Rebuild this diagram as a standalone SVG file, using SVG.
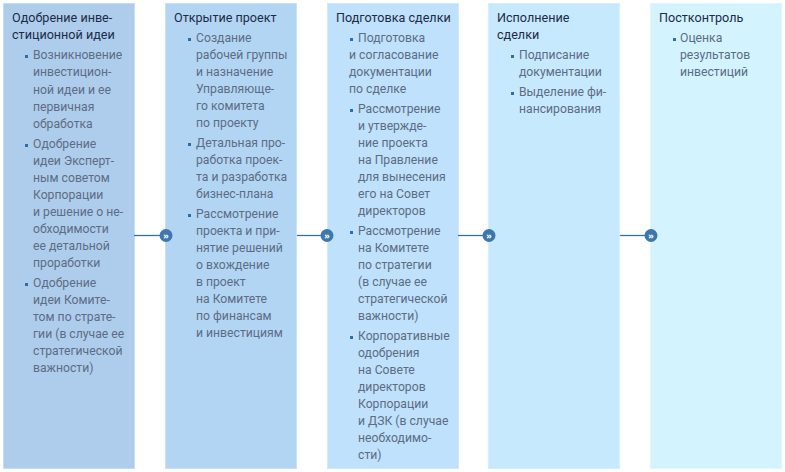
<svg xmlns="http://www.w3.org/2000/svg" width="785" height="472" viewBox="0 0 785 472">
<style>
text{font-family:"Roboto","Open Sans","Noto Sans",sans-serif;font-size:12.2px}
.t{fill:#1c2b47;font-size:12.6px}
.b{fill:#5d6c84}
.sq{fill:#2f6ea5}
.con line{stroke:#3a70a0;stroke-width:1.3}
.con circle{fill:#3c77ad}
.con text{fill:#fff;font-family:"Open Sans",sans-serif;font-size:9px;font-weight:bold;text-anchor:middle}
</style>
<rect width="785" height="472" fill="#fff"/>
<g id="n1">
<rect x="3.5" y="3.5" width="131" height="465" fill="#aecdec" stroke="#c3ddf4"/>
<text class="t" x="12" y="22">Одобрение инве-</text>
<text class="t" x="12" y="39">стиционной идеи</text>
<rect class="sq" x="25" y="55" width="3" height="3"/>
<text class="b" x="33"><tspan x="33" y="59">Возникновение</tspan><tspan x="33" y="76">инвестицион-</tspan><tspan x="33" y="93.5">ной идеи и ее</tspan><tspan x="33" y="110.5">первичная</tspan><tspan x="33" y="128">обработка</tspan></text>
<rect class="sq" x="25" y="144" width="3" height="3"/>
<text class="b"><tspan x="33" y="148">Одобрение</tspan><tspan x="33" y="165">идеи Эксперт-</tspan><tspan x="33" y="182">ным советом</tspan><tspan x="33" y="199">Корпорации</tspan><tspan x="33" y="216">и решение о не-</tspan><tspan x="33" y="233">обходимости</tspan><tspan x="33" y="250">ее детальной</tspan><tspan x="33" y="267">проработки</tspan></text>
<rect class="sq" x="25" y="283" width="3" height="3"/>
<text class="b"><tspan x="33" y="287">Одобрение</tspan><tspan x="33" y="304">идеи Комите-</tspan><tspan x="33" y="321">том по страте-</tspan><tspan x="33" y="338">гии (в случае ее</tspan><tspan x="33" y="355">стратегической</tspan><tspan x="33" y="372">важности)</tspan></text>
</g>
<g id="n2">
<rect x="165.5" y="3.5" width="131" height="465" fill="#b3d5f4" stroke="#c6e1f8"/>
<text class="t" x="174" y="22">Открытие проект</text>
<rect class="sq" x="188" y="38" width="3" height="3"/>
<text class="b"><tspan x="196" y="42">Создание</tspan><tspan x="196" y="59">рабочей группы</tspan><tspan x="196" y="76">и назначение</tspan><tspan x="196" y="93">Управляюще-</tspan><tspan x="196" y="110">го комитета</tspan><tspan x="196" y="127">по проекту</tspan></text>
<rect class="sq" x="188" y="143" width="3" height="3"/>
<text class="b"><tspan x="196" y="147">Детальная про-</tspan><tspan x="196" y="164">работка проек-</tspan><tspan x="196" y="181">та и разработка</tspan><tspan x="196" y="198">бизнес-плана</tspan></text>
<rect class="sq" x="188" y="214" width="3" height="3"/>
<text class="b"><tspan x="196" y="218">Рассмотрение</tspan><tspan x="196" y="235">проекта и при-</tspan><tspan x="196" y="252">нятие решений</tspan><tspan x="196" y="269">о вхождение</tspan><tspan x="196" y="286">в проект</tspan><tspan x="196" y="303">на Комитете</tspan><tspan x="196" y="320">по финансам</tspan><tspan x="196" y="337">и инвестициям</tspan></text>
</g>
<g id="n3">
<rect x="327.5" y="3.5" width="131" height="465" fill="#bfe1fb" stroke="#d0e9fc"/>
<text class="t" x="336" y="22">Подготовка сделки</text>
<rect class="sq" x="350" y="38" width="3" height="3"/>
<text class="b"><tspan x="358" y="42">Подготовка</tspan><tspan x="349" y="59">и согласование</tspan><tspan x="349" y="76">документации</tspan><tspan x="349" y="93">по сделке</tspan></text>
<rect class="sq" x="350" y="109" width="3" height="3"/>
<text class="b"><tspan x="358" y="113">Рассмотрение</tspan><tspan x="358" y="130">и утвержде-</tspan><tspan x="358" y="147">ние проекта</tspan><tspan x="358" y="164">на Правление</tspan><tspan x="358" y="181">для вынесения</tspan><tspan x="358" y="198">его на Совет</tspan><tspan x="358" y="215">директоров</tspan></text>
<rect class="sq" x="350" y="231" width="3" height="3"/>
<text class="b"><tspan x="358" y="235">Рассмотрение</tspan><tspan x="358" y="252">на Комитете</tspan><tspan x="358" y="269">по стратегии</tspan><tspan x="358" y="286">(в случае ее</tspan><tspan x="358" y="303">стратегической</tspan><tspan x="358" y="320">важности)</tspan></text>
<rect class="sq" x="350" y="336" width="3" height="3"/>
<text class="b"><tspan x="358" y="340">Корпоративные</tspan><tspan x="358" y="357">одобрения</tspan><tspan x="358" y="374">на Совете</tspan><tspan x="358" y="391">директоров</tspan><tspan x="358" y="408">Корпорации</tspan><tspan x="358" y="425">и ДЗК (в случае</tspan><tspan x="358" y="442">необходимо-</tspan><tspan x="358" y="459">сти)</tspan></text>
</g>
<g id="n4">
<rect x="488.5" y="3.5" width="131" height="465" fill="#c7e9fd" stroke="#d6effd"/>
<text class="t" x="497" y="22">Исполнение</text>
<text class="t" x="497" y="39">сделки</text>
<rect class="sq" x="511" y="55" width="3" height="3"/>
<text class="b"><tspan x="519" y="59">Подписание</tspan><tspan x="519" y="76">документации</tspan></text>
<rect class="sq" x="511" y="92" width="3" height="3"/>
<text class="b"><tspan x="519" y="96">Выделение фи-</tspan><tspan x="519" y="113">нансирования</tspan></text>
</g>
<g id="n5">
<rect x="650.5" y="3.5" width="131" height="465" fill="#d3f4fe" stroke="#e0f7fe"/>
<text class="t" x="659" y="22">Постконтроль</text>
<rect class="sq" x="673" y="38" width="3" height="3"/>
<text class="b"><tspan x="680" y="42">Оценка</tspan><tspan x="680" y="59">результатов</tspan><tspan x="680" y="76">инвестиций</tspan></text>
</g>
<g id="connectors" class="con">
<line x1="134" y1="235.5" x2="162" y2="235.5"/>
<circle cx="166" cy="235.5" r="6.5"/><text x="166" y="238.5">»</text>
<line x1="297" y1="235.5" x2="323" y2="235.5"/>
<circle cx="327" cy="235.5" r="6.5"/><text x="327" y="238.5">»</text>
<line x1="458" y1="235.5" x2="485" y2="235.5"/>
<circle cx="489" cy="235.5" r="6.5"/><text x="489" y="238.5">»</text>
<line x1="620" y1="235.5" x2="647" y2="235.5"/>
<circle cx="651" cy="235.5" r="6.5"/><text x="651" y="238.5">»</text>
</g>
</svg>
